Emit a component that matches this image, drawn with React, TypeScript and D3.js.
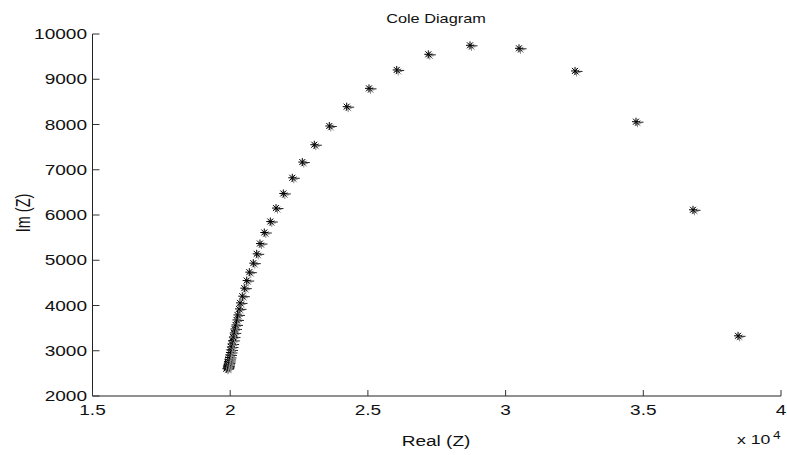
import React from "react";
import * as d3 from "d3";

const realZ = [
  19862, 19877, 19884, 19895, 19906, 19916, 19927, 19942, 19956, 19975, 19993, 20011, 20029,
  20051, 20076, 20102, 20131, 20156, 20192, 20229, 20265, 20319, 20356, 20439, 20512, 20599,
  20694, 20839, 20962, 21082, 21238, 21456, 21663, 21928, 22255, 22618, 23054, 23599, 24230,
  25040, 26046, 27193, 28707, 30487, 32520, 34735, 36805, 38440,
];
const imZ = [
  2602, 2619, 2642, 2664, 2697, 2730, 2763, 2808, 2852, 2907, 2962, 3018, 3084,
  3150, 3228, 3305, 3394, 3482, 3571, 3681, 3792, 3925, 4058, 4206, 4383, 4551,
  4737, 4936, 5142, 5369, 5613, 5856, 6153, 6476, 6823, 7170, 7553, 7967, 8394,
  8799, 9206, 9551, 9750, 9684, 9184, 8062, 6115, 3330,
];
const xTicks = [15000, 20000, 25000, 30000, 35000, 40000];
const xTickLabels = ["1.5", "2", "2.5", "3", "3.5", "4"];
const yTicks = [2000, 3000, 4000, 5000, 6000, 7000, 8000, 9000, 10000];
const yTickLabels = ["2000", "3000", "4000", "5000", "6000", "7000", "8000", "9000", "10000"];
const title = "Cole Diagram";
const xLabel = "Real (Z)";
const yLabel = "Im (Z)";

const W = 787;
const H = 455;
const SX = 1.36;
const FONT = "'Liberation Sans', Arial, Helvetica, sans-serif";

function SText({ x, y, anchor, size, children }: any) {
  return (
    <text
      transform={`translate(${x},${y}) scale(${SX},1)`}
      textAnchor={anchor}
      fontSize={size}
      fontFamily={FONT}
      fill="#111"
    >
      {children}
    </text>
  );
}

export default function App() {
  const x = d3.scaleLinear().domain([15000, 40000]).range([92.5, 781]);
  const y = d3.scaleLinear().domain([2000, 10000]).range([396, 34]);
  const pts = realZ.map((r, i) => ({ cx: x(r), cy: y(imZ[i]) }));

  const star = (cx: number, cy: number, color: string, key: string) => (
    <g key={key} stroke={color} strokeWidth={1}>
      <line x1={cx} y1={cy - 4} x2={cx} y2={cy + 4} />
      <line x1={cx - 4} y1={cy} x2={cx + 4} y2={cy} />
      <line x1={cx - 3} y1={cy - 3} x2={cx + 3} y2={cy + 3} />
      <line x1={cx - 3} y1={cy + 3} x2={cx + 3} y2={cy - 3} />
    </g>
  );

  return (
    <svg
      width={W}
      height={H}
      style={{ position: "absolute", left: 0, top: 0, background: "#fff" }}
    >
      <rect x={0} y={0} width={W} height={H} fill="#fff" />
      {/* axes */}
      <line x1={x(15000)} y1={y(2000)} x2={x(40000)} y2={y(2000)} stroke="#222" strokeWidth={1} />
      <line x1={x(15000)} y1={y(2000)} x2={x(15000)} y2={y(10000)} stroke="#222" strokeWidth={1} />
      {xTicks.map((t, i) => (
        <g key={"xt" + i}>
          <line x1={x(t)} y1={y(2000)} x2={x(t)} y2={y(2000) - 6} stroke="#333" strokeWidth={1} />
          <SText x={x(t)} y={415} anchor="middle" size={14}>
            {xTickLabels[i]}
          </SText>
        </g>
      ))}
      {yTicks.map((t, i) => (
        <g key={"yt" + i}>
          <line x1={x(15000)} y1={y(t)} x2={x(15000) + 7} y2={y(t)} stroke="#333" strokeWidth={1} />
          <SText x={87} y={y(t) + 5} anchor="end" size={14}>
            {yTickLabels[i]}
          </SText>
        </g>
      ))}
      {/* markers */}
      {pts.map((p, i) => (
        <g key={"p" + i}>
          {star(p.cx + 1.5, p.cy + 1.5, "#8a8a8a", "g" + i)}
          {star(p.cx, p.cy, "#000", "b" + i)}
          <line x1={p.cx + 3} y1={p.cy + 0.5} x2={p.cx + 7.5} y2={p.cy + 0.5} stroke="#222" strokeWidth={1} />
        </g>
      ))}
      {/* title and labels */}
      <SText x={436} y={22.5} anchor="middle" size={12}>
        {title}
      </SText>
      <SText x={436} y={445.5} anchor="middle" size={14}>
        {xLabel}
      </SText>
      <text
        transform={`translate(30,213) scale(${SX},1) rotate(-90)`}
        textAnchor="middle"
        fontSize={14.5}
        fontFamily={FONT}
        fill="#111"
      >
        {yLabel}
      </text>
      <SText x={737} y={444} anchor="start" size={13}>
        x 10
      </SText>
      <SText x={773} y={439} anchor="start" size={10}>
        4
      </SText>
    </svg>
  );
}
